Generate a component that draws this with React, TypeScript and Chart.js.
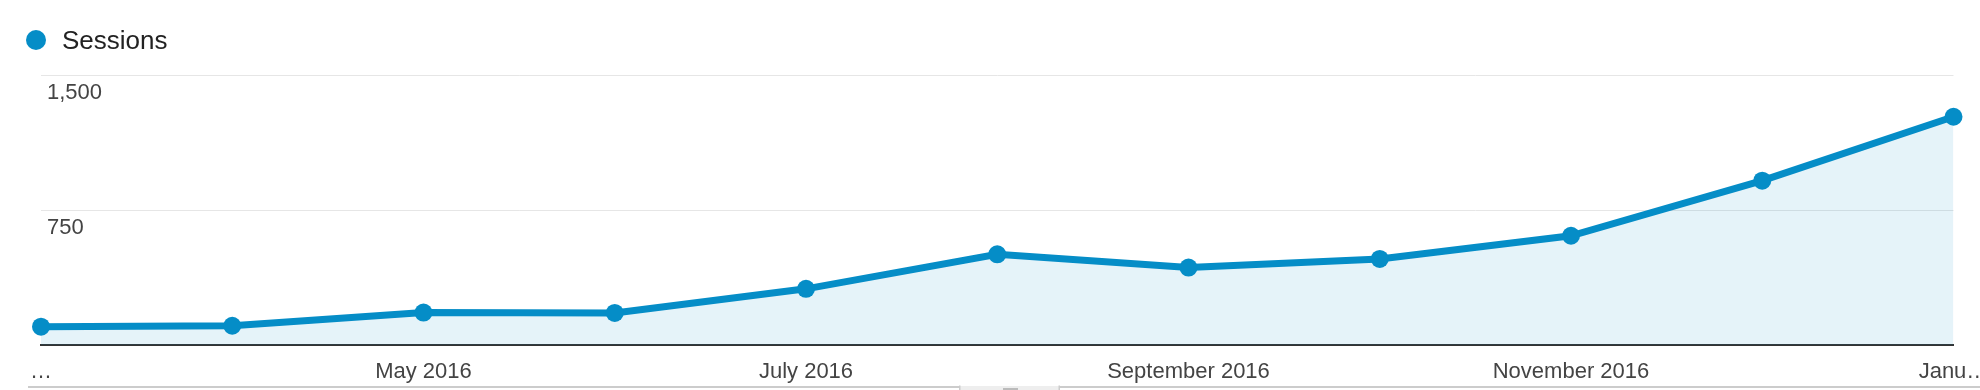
import React, { useEffect, useRef } from "react";
import { Chart, registerables } from "chart.js";

Chart.register(...registerables);

const seriesLabel = "Sessions";
const months = [
  "March 2016",
  "April 2016",
  "May 2016",
  "June 2016",
  "July 2016",
  "August 2016",
  "September 2016",
  "October 2016",
  "November 2016",
  "December 2016",
  "January 2017",
];
const sessions = [102, 107, 180, 178, 312, 504, 430, 478, 607, 913, 1268];
const xTickLabels = ["…", "", "May 2016", "", "July 2016", "", "September 2016", "", "November 2016", "", "Janu…"];
const yTickValues = [0, 750, 1500];
const yTickLabels = ["", "750", "1,500"];

const BLUE = "#058dc7";
const FONT = '"Liberation Sans", Arial, Helvetica, sans-serif';

const decorPlugin = {
  id: "gaDecor",
  afterDraw(chart: any) {
    const ctx = chart.ctx;
    ctx.save();
    // legend
    ctx.fillStyle = BLUE;
    ctx.beginPath();
    ctx.arc(36, 40, 10, 0, Math.PI * 2);
    ctx.fill();
    ctx.fillStyle = "#222222";
    ctx.font = `26px ${FONT}`;
    ctx.textBaseline = "alphabetic";
    ctx.textAlign = "left";
    ctx.fillText(seriesLabel, 62, 49);
    // bottom separator line and tab
    ctx.fillStyle = "#cccccc";
    ctx.fillRect(28, 386, 1952, 2);
    ctx.fillStyle = "#eeeeee";
    ctx.fillRect(960, 386, 99, 4);
    ctx.fillStyle = "#cccccc";
    ctx.fillRect(959, 385.5, 1.5, 5);
    ctx.fillRect(1058.5, 385.5, 1.5, 5);
    ctx.fillStyle = "#bbbbbb";
    ctx.fillRect(1003, 388, 15, 2);
    ctx.restore();
  },
};

export default function App() {
  const ref = useRef<HTMLCanvasElement | null>(null);

  useEffect(() => {
    if (!ref.current) return;
    Chart.defaults.font.family = FONT;
    const chart = new Chart(ref.current, {
      type: "line",
      data: {
        labels: months,
        datasets: [
          {
            label: seriesLabel,
            data: sessions,
            borderColor: BLUE,
            backgroundColor: "rgba(5,141,199,0.105)",
            borderWidth: 7,
            pointRadius: 9,
            pointHoverRadius: 9,
            pointBackgroundColor: BLUE,
            pointBorderWidth: 0,
            fill: "origin",
            tension: 0,
            clip: false as any,
          },
        ],
      },
      options: {
        responsive: false,
        animation: false,
        devicePixelRatio: 1,
        layout: {
          autoPadding: false,
          padding: { left: 29, right: 26.5, top: 75, bottom: 0 },
        },
        plugins: {
          legend: { display: false },
          tooltip: { enabled: false },
        },
        scales: {
          x: {
            grid: { display: false, drawTicks: false },
            border: { display: true, color: "#333333", width: 2 },
            afterFit: (scale: any) => {
              scale.paddingLeft = 0;
              scale.paddingRight = 0;
              scale.height = 45;
            },
            ticks: {
              autoSkip: false,
              maxRotation: 0,
              minRotation: 0,
              padding: 14,
              color: "#444444",
              font: { size: 22, family: FONT },
              callback: (_v: any, i: number) => xTickLabels[i],
            },
          },
          y: {
            min: 0,
            max: 1500,
            afterBuildTicks: (scale: any) => {
              scale.ticks = yTickValues.map((v) => ({ value: v }));
            },
            grid: { color: "#e6e6e6", lineWidth: 1, drawTicks: false },
            border: { display: false },
            ticks: {
              mirror: true,
              padding: 6,
              labelOffset: 18,
              color: "#444444",
              font: { size: 22, family: FONT },
              callback: (_v: any, i: number) => yTickLabels[i],
            },
          },
        },
      },
      plugins: [decorPlugin],
    });
    return () => chart.destroy();
  }, []);

  return (
    <div style={{ position: "absolute", left: 0, top: 0, width: 1980, height: 390, background: "#fff" }}>
      <canvas ref={ref} width={1980} height={390} style={{ display: "block", width: 1980, height: 390 }} />
    </div>
  );
}
